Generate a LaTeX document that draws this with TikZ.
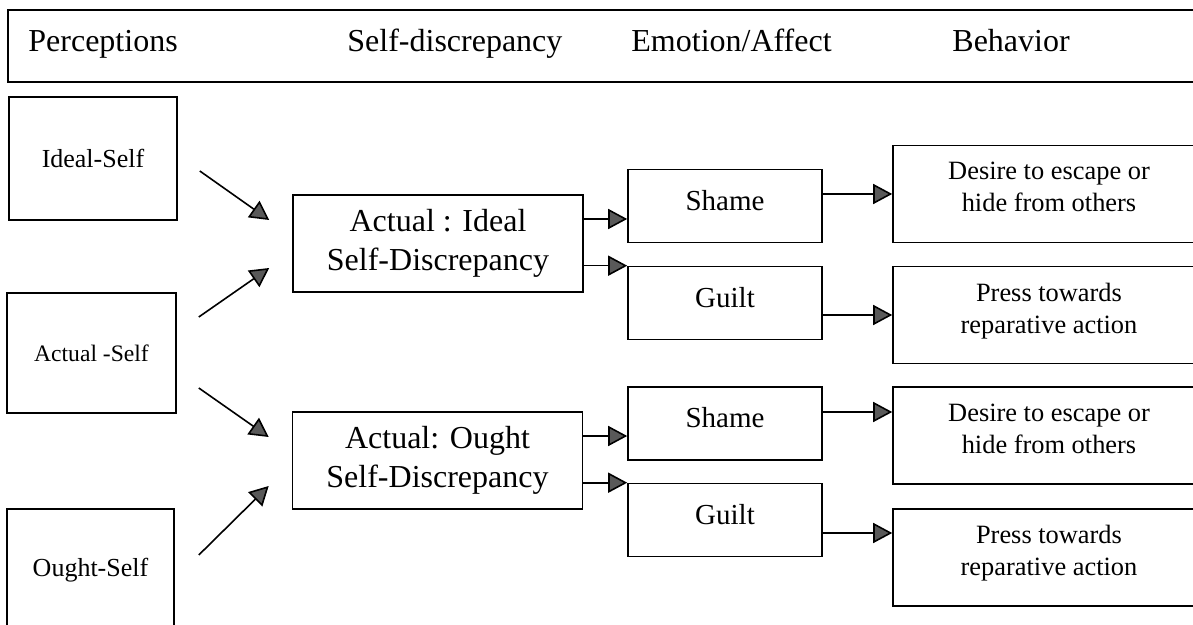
\documentclass[tikz,border=0pt]{standalone}
\usepackage{fontspec}
\setmainfont{Liberation Serif}
\usetikzlibrary{arrows.meta}

\tikzset{
  box/.style={draw,line width=0.8pt,align=center,inner sep=0pt},
  selfbox/.style={box,minimum width=84pt,font=\fontsize{13}{15.6}\selectfont},
  discbox/.style={box,minimum width=145pt,minimum height=48.5pt,font=\fontsize{16}{19.5}\selectfont},
  emobox/.style={box,minimum width=97pt,minimum height=36.5pt,text depth=6pt,font=\fontsize{14.5}{17}\selectfont},
  behbox/.style={box,minimum width=156pt,minimum height=48.5pt,text depth=7pt,font=\fontsize{13.2}{16}\selectfont},
  head/.style={anchor=base west,inner sep=0pt,font=\fontsize{16}{19}\selectfont},
  arr/.style={line width=0.8pt,-{Triangle[length=9.5pt,width=10pt,fill=black!65]}}
}

\begin{document}
\begin{tikzpicture}[x=0.5pt,y=-0.5pt]
\useasboundingbox (0,0) rectangle (1193,625);
\clip (0,0) rectangle (1193,625);
% column headings
\draw[line width=0.8pt] (8,10) rectangle (1215,82);
\node[head] (hperc) at (28,52) {Perceptions};
\node[head] (hdisc) at (347,52) {Self-discrepancy};
\node[head] (hemo) at (631,52) {Emotion/Affect};
\node[head] (hbeh) at (952,52) {Behavior};
% perceptions
\node[selfbox,minimum height=61.5pt] (ideal) at (93,158.5) {Ideal-Self};
\node[selfbox,minimum width=84.5pt,minimum height=60pt,font=\fontsize{11.8}{14}\selectfont] (actual) at (91.5,353) {Actual -Self};
\node[selfbox,minimum width=83.5pt,minimum height=61pt] (ought) at (90.5,570) {Ought-Self};
% discrepancies
\node[discbox] (actideal) at (438,243.5) {Actual : Ideal\\Self-Discrepancy};
\node[discbox] (actought) at (437.5,460.5) {Actual: Ought\\Self-Discrepancy};
% emotions
\node[emobox] (shame1) at (725,206) {Shame};
\node[emobox] (guilt1) at (725,303) {Guilt};
\node[emobox] (shame2) at (725,423.5) {Shame};
\node[emobox] (guilt2) at (725,520) {Guilt};
% behaviours
\node[behbox] (desire1) at (1049,194) {Desire to escape or\\hide from others};
\node[behbox] (press1) at (1049,315) {Press towards\\reparative action};
\node[behbox] (desire2) at (1049,435.5) {Desire to escape or\\hide from others};
\node[behbox] (press2) at (1049,557.5) {Press towards\\reparative action};

\draw[arr] ([shift={(22,12.5)}]ideal.east) -- ([shift={(-23,-23.5)}]actideal.west);
\draw[arr] ([shift={(22,-36)}]actual.east) -- ([shift={(-23,24.5)}]actideal.west);
\draw[arr] ([shift={(22,35)}]actual.east) -- ([shift={(-23,-23.5)}]actought.west);
\draw[arr] ([shift={(24,-15)}]ought.east) -- ([shift={(-23,25.5)}]actought.west);

\coordinate (s1) at ([yshift=-6.5pt]shame1.west);
\coordinate (s2) at ([yshift=-6.25pt]shame2.west);
\draw[arr] (actideal.east |- s1) -- (s1);
\draw[arr] (actideal.east |- guilt1.north west) -- (guilt1.north west);
\draw[arr] (actought.east |- s2) -- (s2);
\draw[arr] (actought.east |- guilt2.north west) -- (guilt2.north west);

\coordinate (d2) at ([yshift=11.75pt]desire2.west);
\coordinate (p2) at ([yshift=12.25pt]press2.west);
\draw[arr] (shame1.east |- desire1.west) -- (desire1.west);
\draw[arr] (guilt1.east |- press1.west) -- (press1.west);
\draw[arr] (shame2.east |- d2) -- (d2);
\draw[arr] (guilt2.east |- p2) -- (p2);
\end{tikzpicture}
\end{document}
